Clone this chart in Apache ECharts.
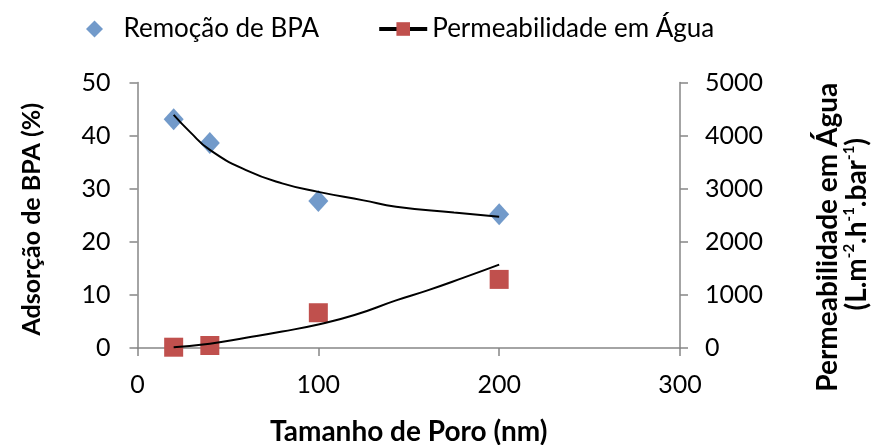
<!DOCTYPE html>
<html><head><meta charset="utf-8">
<script src="https://cdn.jsdelivr.net/npm/echarts@6/dist/echarts.min.js"></script>
<style>html,body{margin:0;padding:0;background:#fff}#c{width:872px;height:445px}</style>
</head><body><div id="c"></div>
<script>
const poreSize = [20, 40, 100, 200];
const bpaRemoval = [43.1, 38.6, 27.7, 25.2];
const permeability = [15, 47, 664, 1292];
const bpaTrendX = [20, 29, 40, 60, 80, 100, 125, 143, 175, 200];
const bpaTrendY = [43.9, 40.7, 37.3, 33.5, 31.0, 29.4, 27.8, 26.6, 25.5, 24.7];
const permTrendX = [20, 40, 60, 80, 100, 120, 143, 160, 180, 200];
const permTrendY = [15, 79, 192, 310, 443, 620, 896, 1080, 1320, 1570];
const xTicks = [0, 100, 200, 300];
const leftTicks = [0, 10, 20, 30, 40, 50];
const rightTicks = [0, 1000, 2000, 3000, 4000, 5000];
const seriesNames = ['Remoção de BPA', 'Permeabilidade em Água'];

const F = 'Lato';
const zip = (a, b) => a.map((v, i) => [v, b[i]]);
const axisGray = '#868686';
const chart = echarts.init(document.getElementById('c'));
chart.setOption({
  animation: false,
  textStyle: { fontFamily: F },
  legend: {
    left: 81, top: 11, itemWidth: 48, itemHeight: 17, itemGap: 58, symbolKeepAspect: true,
    textStyle: { fontFamily: F, fontSize: 26, color: '#000' },
    data: [
      { name: seriesNames[0], icon: 'path://M0,-1L1,0L0,1L-1,0Z', itemStyle: { color: '#4F81BD' } },
      { name: seriesNames[1], itemStyle: { color: '#C0504D' }, lineStyle: { color: '#000', width: 4, opacity: 1 } }
    ]
  },
  grid: { left: 137.5, right: 192, top: 82.5, bottom: 97, outerBoundsMode: 'none' },
  xAxis: {
    type: 'value', min: xTicks[0], max: xTicks[xTicks.length - 1], interval: 100,
    name: 'Tamanho de Poro (nm)', nameLocation: 'middle', nameGap: 70,
    nameTextStyle: { fontFamily: F, fontSize: 28, fontWeight: 'bold', color: '#000' },
    axisLine: { lineStyle: { color: axisGray, width: 1.5 } },
    axisTick: { show: true, length: 8, lineStyle: { color: axisGray, width: 1.5 } },
    axisLabel: { fontSize: 25, color: '#000', margin: 24 },
    splitLine: { show: false }
  },
  yAxis: [{
    type: 'value', min: leftTicks[0], max: leftTicks[leftTicks.length - 1], interval: 10,
    name: 'Adsorção de BPA (%)', nameLocation: 'middle', nameGap: 93, nameRotate: 90,
    nameTextStyle: { fontFamily: F, fontSize: 25, fontWeight: 'bold', color: '#000', padding: [0, 8, 0, 0] },
    axisLine: { show: true, lineStyle: { color: axisGray, width: 1.5 } },
    axisTick: { show: true, length: 8, lineStyle: { color: axisGray, width: 1.5 } },
    axisLabel: { fontSize: 25, color: '#000', margin: 27 },
    splitLine: { show: false }
  }, {
    type: 'value', position: 'right', min: rightTicks[0], max: rightTicks[rightTicks.length - 1], interval: 1000,
    name: 'Permeabilidade em Água\n{sp|}(L.m{s|-2}.h{s|-1}.bar{s|-1})', nameLocation: 'middle', nameGap: 133, nameRotate: 90,
    nameTextStyle: {
      fontFamily: F, fontSize: 28, fontWeight: 'bold', color: '#000', lineHeight: 29, align: 'center',
      padding: [0, 44, 0, 0],
      rich: {
        s: { fontFamily: F, fontSize: 15, fontWeight: 'bold', color: '#000', verticalAlign: 'top', lineHeight: 29, padding: [0, 0, 12, 0] },
        sp: { width: 26, lineHeight: 29 }
      }
    },
    axisLine: { show: true, lineStyle: { color: axisGray, width: 1.5 } },
    axisTick: { show: true, length: 8, lineStyle: { color: axisGray, width: 1.5 } },
    axisLabel: { fontSize: 25, color: '#000', margin: 25, formatter: v => String(v) },
    splitLine: { show: false }
  }],
  series: [
    {
      name: seriesNames[0], type: 'scatter', yAxisIndex: 0, symbol: 'diamond', symbolSize: [20, 22],
      itemStyle: { color: '#4F81BD' }, data: zip(poreSize, bpaRemoval), z: 3
    },
    {
      name: seriesNames[1], type: 'line', yAxisIndex: 1, symbol: 'rect', symbolSize: 19,
      showSymbol: true, lineStyle: { opacity: 0, width: 0 },
      itemStyle: { color: '#C0504D' }, data: zip(poreSize, permeability), z: 3
    },
    {
      name: 'bpaTrend', type: 'line', yAxisIndex: 0, smooth: true, showSymbol: false, symbol: 'none',
      lineStyle: { color: '#000', width: 2 }, data: zip(bpaTrendX, bpaTrendY), z: 4, silent: true
    },
    {
      name: 'permTrend', type: 'line', yAxisIndex: 1, smooth: true, showSymbol: false, symbol: 'none',
      lineStyle: { color: '#000', width: 2 }, data: zip(permTrendX, permTrendY), z: 4, silent: true
    }
  ]
});
</script></body></html>
